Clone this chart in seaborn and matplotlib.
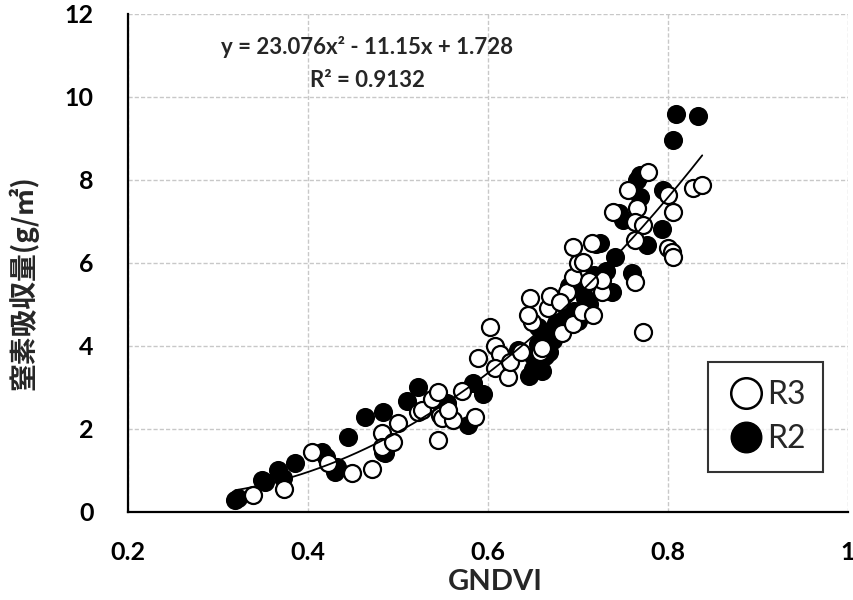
import numpy as np
import pandas as pd
import matplotlib
matplotlib.use("Agg")
import matplotlib.pyplot as plt
from matplotlib.lines import Line2D
import seaborn as sns

# ---- data ----
r3_gndvi = [0.339, 0.373, 0.404, 0.422, 0.449, 0.471, 0.482, 0.482, 0.494, 0.500,
            0.522, 0.527, 0.538, 0.544, 0.547, 0.544, 0.549, 0.561, 0.571, 0.586,
            0.556, 0.589, 0.602, 0.608, 0.613, 0.608, 0.622, 0.624, 0.637, 0.649,
            0.658, 0.682, 0.644, 0.647, 0.667, 0.669, 0.688, 0.694, 0.694, 0.704,
            0.717, 0.727, 0.727, 0.700, 0.706, 0.694, 0.716, 0.763, 0.772, 0.739,
            0.756, 0.766, 0.778, 0.763, 0.772, 0.763, 0.800, 0.806, 0.828, 0.838,
            0.800, 0.804, 0.806, 0.660, 0.680, 0.712]
r3_n = [0.41, 0.55, 1.45, 1.18, 0.93, 1.02, 1.90, 1.55, 1.67, 2.14,
        2.41, 2.46, 2.72, 2.89, 2.34, 1.73, 2.26, 2.22, 2.92, 2.29,
        2.45, 3.71, 4.46, 4.00, 3.80, 3.47, 3.25, 3.60, 3.86, 4.58,
        3.86, 4.31, 4.75, 5.16, 4.92, 5.20, 5.30, 5.66, 4.52, 4.82,
        4.75, 5.30, 5.59, 6.00, 6.02, 6.39, 6.48, 5.54, 4.34, 7.23,
        7.76, 7.33, 8.19, 6.99, 6.92, 6.55, 7.64, 7.23, 7.80, 7.88,
        6.36, 6.27, 6.14, 3.95, 5.05, 5.55]

r2_gndvi = [0.319, 0.322, 0.349, 0.352, 0.367, 0.372, 0.386, 0.415, 0.420, 0.430,
            0.432, 0.444, 0.463, 0.483, 0.483, 0.486, 0.510, 0.522, 0.554, 0.578,
            0.583, 0.594, 0.633, 0.645, 0.650, 0.650, 0.655, 0.660, 0.663, 0.668,
            0.655, 0.665, 0.675, 0.672, 0.685, 0.695, 0.700, 0.705, 0.712, 0.718,
            0.724, 0.738, 0.731, 0.741, 0.750, 0.760, 0.766, 0.769, 0.769, 0.777,
            0.793, 0.794, 0.806, 0.809, 0.833, 0.680, 0.690, 0.745, 0.720, 0.708]
r2_n = [0.29, 0.33, 0.77, 0.72, 1.01, 0.82, 1.18, 1.45, 1.33, 0.96,
        1.08, 1.80, 2.29, 2.41, 1.45, 1.42, 2.68, 3.01, 2.62, 2.10,
        3.11, 2.85, 3.90, 3.28, 3.45, 3.75, 4.05, 3.40, 3.75, 3.85,
        4.45, 4.30, 4.55, 4.15, 4.65, 4.85, 4.60, 5.40, 5.00, 5.70,
        6.48, 5.30, 5.80, 6.14, 7.04, 5.76, 8.00, 8.12, 7.59, 6.43,
        6.82, 7.76, 8.96, 9.59, 9.54, 5.05, 5.45, 7.20, 6.45, 5.15]

# quadratic trendline shown on the chart
coef = [23.076, -11.15, 1.728]
r_squared = 0.9132

x_ticks = [0.2, 0.4, 0.6, 0.8, 1.0]
x_ticklabels = ["0.2", "0.4", "0.6", "0.8", "1"]
y_ticks = [0, 2, 4, 6, 8, 10, 12]
y_ticklabels = ["0", "2", "4", "6", "8", "10", "12"]

df = pd.concat([
    pd.DataFrame({"GNDVI": r3_gndvi, "N": r3_n, "series": "R3"}),
    pd.DataFrame({"GNDVI": r2_gndvi, "N": r2_n, "series": "R2"}),
], ignore_index=True)

sns.set_style("white")
plt.rcParams["font.family"] = ["Lato", "Noto Sans CJK JP", "DejaVu Sans"]

fig = plt.figure(figsize=(8.54, 6.0), dpi=100)
ax = fig.add_axes([0.150, 0.147, 0.843, 0.830])

# filled R2 first, open R3 drawn over it
sns.scatterplot(data=df[df.series == "R2"], x="GNDVI", y="N", ax=ax,
                s=150, color="black", edgecolor="black", linewidth=1.5, zorder=3)
sns.scatterplot(data=df[df.series == "R3"], x="GNDVI", y="N", ax=ax,
                s=150, color="white", edgecolor="black", linewidth=1.6, zorder=4)

xs = np.linspace(df.GNDVI.min(), df.GNDVI.max(), 200)
ax.plot(xs, np.polyval(coef, xs), color="black", lw=1.3, zorder=5)

eq = f"y = {coef[0]}x² - {abs(coef[1])}x + {coef[2]}"
ax.text(0.466, 11.2, eq, ha="center", va="center",
        fontsize=16, fontweight="bold", family=["Lato", "DejaVu Sans"])
ax.text(0.466, 10.4, f"R² = {r_squared}", ha="center", va="center",
        fontsize=16, fontweight="bold", family=["Lato", "DejaVu Sans"])

ax.set_xlim(0.2, 1.0)
ax.set_ylim(0, 12)
ax.set_xticks(x_ticks)
ax.set_xticklabels(x_ticklabels, fontweight="bold", fontsize=18)
ax.set_yticks(y_ticks)
ax.set_yticklabels(y_ticklabels, fontweight="bold", fontsize=18)
ax.grid(True, color="#c8c8c8", linestyle=(0, (3, 1.5)), linewidth=1.0)
ax.set_axisbelow(True)

for side in ["top", "right"]:
    ax.spines[side].set_visible(False)
for side in ["left", "bottom"]:
    ax.spines[side].set_color("black")
    ax.spines[side].set_linewidth(1.6)

ax.tick_params(direction="in", length=6, width=1.6, colors="black")
ax.tick_params(axis="y", pad=25)
ax.tick_params(axis="x", pad=21)

ax.set_xlabel("GNDVI", fontsize=21, fontweight="bold")
ax.xaxis.set_label_coords(0.51, -0.115)
ax.set_ylabel("窒素吸収量(g/㎡)", fontsize=20, fontweight="bold",
              family=["Noto Sans CJK JP", "DejaVu Sans"])
ax.yaxis.set_label_coords(-0.125, 0.46)

handles = [
    Line2D([], [], marker="o", linestyle="none", markersize=22,
           markerfacecolor="white", markeredgecolor="black", markeredgewidth=1.8),
    Line2D([], [], marker="o", linestyle="none", markersize=22,
           markerfacecolor="black", markeredgecolor="black"),
]
leg = ax.legend(handles, ["R3", "R2"], loc="center", bbox_to_anchor=(0.885, 0.19),
                bbox_transform=ax.transAxes, fontsize=23, frameon=True,
                fancybox=False, edgecolor="black", handletextpad=0.0,
                handlelength=1.3, borderpad=0.55, labelspacing=0.45)
leg.get_frame().set_linewidth(1.5)
leg.set_zorder(10)

fig.savefig("out.png", dpi=100)
